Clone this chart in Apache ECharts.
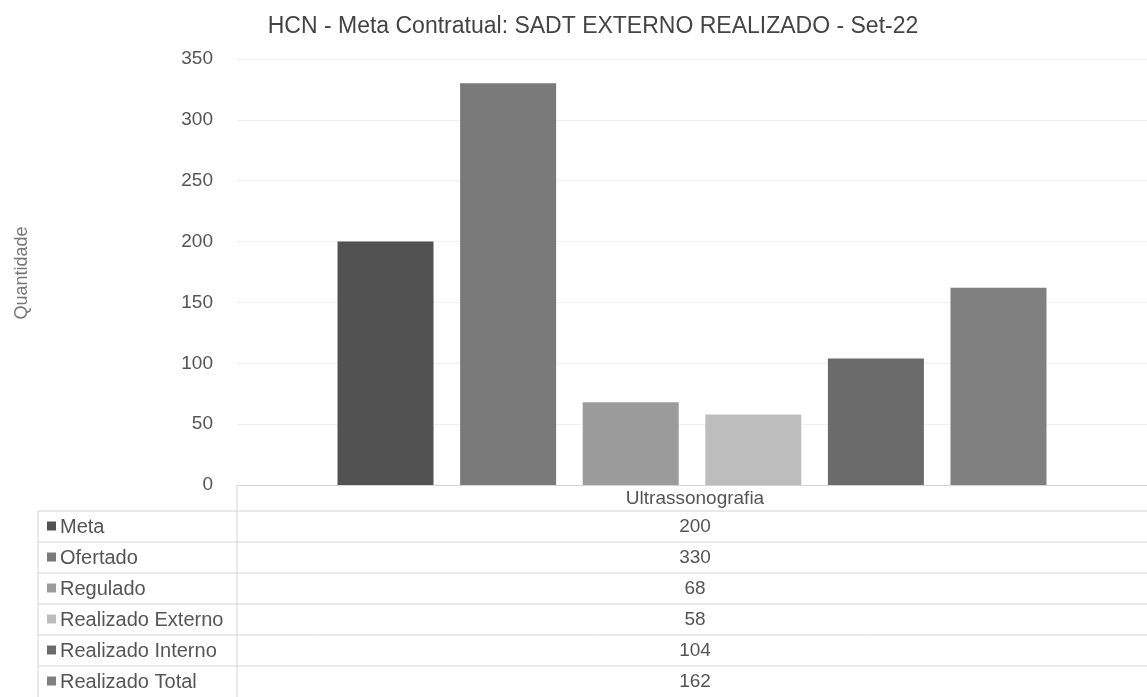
<!DOCTYPE html>
<html>
<head>
<meta charset="utf-8">
<script src="https://cdn.jsdelivr.net/npm/echarts@6/dist/echarts.min.js"></script>
<style>
  html, body { margin: 0; padding: 0; background: #fff; }
  #chart { width: 1147px; height: 697px; }
</style>
</head>
<body>
<div id="chart"></div>
<script>
// ---- data ----
const categories = ['Ultrassonografia'];
const seriesNames = ['Meta', 'Ofertado', 'Regulado', 'Realizado Externo', 'Realizado Interno', 'Realizado Total'];
const meta = [200];
const ofertado = [330];
const regulado = [68];
const realizadoExterno = [58];
const realizadoInterno = [104];
const realizadoTotal = [162];
const yTicks = [0, 50, 100, 150, 200, 250, 300, 350];
const titleText = 'HCN - Meta Contratual: SADT EXTERNO REALIZADO - Set-22';
const yAxisName = 'Quantidade';

const seriesValues = [meta, ofertado, regulado, realizadoExterno, realizadoInterno, realizadoTotal];
const colors = ['#525252', '#7a7a7a', '#9b9b9b', '#bdbdbd', '#6b6b6b', '#808080'];

// ---- layout ----
const FONT = 'Arial, "Liberation Sans", sans-serif';
const gridLeft = 237, gridTop = 59, gridHeight = 426, gridWidth = 920;
const axisY = gridTop + gridHeight;
const headerBottom = 511;
const rowH = 31;
const tableLeft = 38;
const W = 1147, H = 697;
const lineColor = '#d4d4d4';
const textColor = '#555';

const chart = echarts.init(document.getElementById('chart'));

const graphics = [];
// table lines
graphics.push({ type: 'line', shape: { x1: gridLeft, y1: axisY, x2: gridLeft, y2: H }, style: { stroke: lineColor, lineWidth: 1 } });
graphics.push({ type: 'line', shape: { x1: tableLeft, y1: headerBottom, x2: tableLeft, y2: H }, style: { stroke: lineColor, lineWidth: 1 } });
for (let i = 0; i <= seriesNames.length; i++) {
  const y = headerBottom + i * rowH;
  if (y < H) graphics.push({ type: 'line', shape: { x1: tableLeft, y1: y, x2: W, y2: y }, style: { stroke: lineColor, lineWidth: 1 } });
}
const valueCenterX = 695;
// header
graphics.push({ type: 'text', x: valueCenterX, y: (axisY + headerBottom) / 2 + 1,
  style: { text: categories[0], fill: textColor, font: '19px ' + FONT, align: 'center', verticalAlign: 'middle' } });
seriesNames.forEach((name, i) => {
  const cy = headerBottom + i * rowH + rowH / 2;
  graphics.push({ type: 'rect', shape: { x: 47, y: cy - 5, width: 9, height: 9 }, style: { fill: colors[i] } });
  graphics.push({ type: 'text', x: 60, y: cy + 1,
    style: { text: name, fill: textColor, font: '20px ' + FONT, align: 'left', verticalAlign: 'middle' } });
  graphics.push({ type: 'text', x: valueCenterX, y: cy,
    style: { text: String(seriesValues[i][0]), fill: textColor, font: '19px ' + FONT, align: 'center', verticalAlign: 'middle' } });
});
// y axis name
graphics.push({ type: 'text', x: 22, y: 273, rotation: Math.PI / 2,
  style: { text: yAxisName, fill: '#777', font: '18px ' + FONT, align: 'center', verticalAlign: 'middle' } });

chart.setOption({
  backgroundColor: '#fff',
  animation: false,
  title: {
    text: titleText, left: 588, top: 10, textAlign: 'center',
    textStyle: { fontFamily: FONT, fontSize: 23, fontWeight: 'normal', color: '#444' }
  },
  grid: { left: gridLeft, top: gridTop, width: gridWidth, height: gridHeight },
  xAxis: {
    type: 'category', data: categories,
    axisLine: { show: true, lineStyle: { color: lineColor } },
    axisTick: { show: false }, axisLabel: { show: false }
  },
  yAxis: {
    type: 'value', min: yTicks[0], max: yTicks[yTicks.length - 1], interval: 50,
    axisLine: { show: false }, axisTick: { show: false },
    axisLabel: { color: textColor, fontSize: 19, fontFamily: FONT, margin: 24 },
    splitLine: { lineStyle: { color: '#f0f0f0' } }
  },
  series: seriesNames.map((name, i) => ({
    name, type: 'bar', data: seriesValues[i], barWidth: 96, barGap: '27.7%',
    itemStyle: { color: colors[i] }
  })),
  graphic: graphics
});
</script>
</body>
</html>
